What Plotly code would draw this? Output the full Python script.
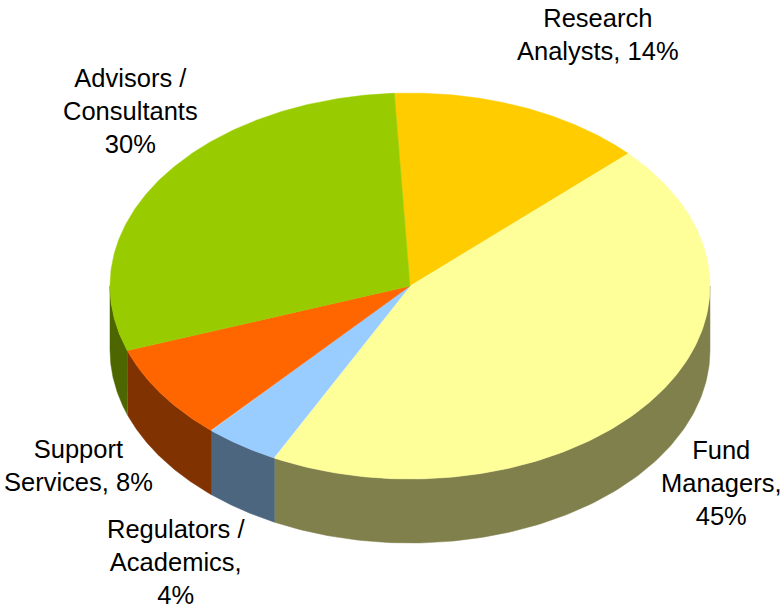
import numpy as np
import plotly.graph_objects as go

# Slice data, clockwise from the Research / Advisors boundary
categories = ["Research Analysts", "Fund Managers", "Regulators / Academics", "Support Services", "Advisors / Consultants"]
shares = [13.8, 44.5, 4.05, 8.05, 29.6]
label_texts = ["Research<br>Analysts, 14%", "Fund<br>Managers,<br>45%", "Regulators /<br>Academics,<br>4%",
               "Support<br>Services, 8%", "Advisors /<br>Consultants<br>30%"]
top_colors = ["#FFCC00", "#FFFF99", "#99CCFF", "#FF6600", "#99CC00"]
side_colors = ["#806600", "#80804D", "#4D6680", "#803300", "#4D6600"]
label_x = [598, 721, 176, 78, 130]
label_y = [34, 483, 562, 465, 111]

W, H = 781, 610
CX, CY, RX, RY, DEPTH = 410, 286, 300, 193, 64
START_DEG = -3.0


def ellipse(a_deg, dy=0.0):
    a = np.radians(a_deg)
    return CX + RX * np.sin(a), CY - RY * np.cos(a) + dy


fig = go.Figure()
fracs = np.array(shares) / sum(shares) * 360
edges = START_DEG + np.concatenate([[0], np.cumsum(fracs)])

# Side walls: only the front half (90..270 degrees clockwise from the top) shows
for i, name in enumerate(categories):
    a0, a1 = max(edges[i], 90), min(edges[i + 1], 270)
    if a1 <= a0:
        continue
    t = np.linspace(a0, a1, 120)
    x1, y1 = ellipse(t)
    x2, y2 = ellipse(t[::-1], DEPTH)
    fig.add_trace(go.Scatter(x=np.r_[x1, x2, x1[0]], y=np.r_[y1, y2, y1[0]], fill="toself", mode="lines",
                             line=dict(color=side_colors[i], width=0.5), fillcolor=side_colors[i],
                             name=name, showlegend=False, hoverinfo="skip"))

# Top faces
for i, name in enumerate(categories):
    t = np.linspace(edges[i], edges[i + 1], 200)
    x, y = ellipse(t)
    fig.add_trace(go.Scatter(x=np.r_[CX, x, CX], y=np.r_[CY, y, CY], fill="toself", mode="lines",
                             line=dict(color=top_colors[i], width=0.5), fillcolor=top_colors[i],
                             name=name, showlegend=False, hoverinfo="text", text=label_texts[i]))

for txt, lx, ly in zip(label_texts, label_x, label_y):
    fig.add_annotation(x=lx, y=ly, xref="x", yref="y", text=txt, showarrow=False, align="center",
                       font=dict(family="Liberation Sans, Arial, sans-serif", size=25.5, color="#000000"))

fig.update_layout(width=W, height=H, margin=dict(l=0, r=0, t=0, b=0), paper_bgcolor="white", plot_bgcolor="white",
                  xaxis=dict(range=[0, W], visible=False, fixedrange=True),
                  yaxis=dict(range=[H, 0], visible=False, fixedrange=True))
fig.write_html("out.html", config={"displayModeBar": False},
               post_script="document.body.style.margin='0';document.documentElement.style.overflow='hidden';")
